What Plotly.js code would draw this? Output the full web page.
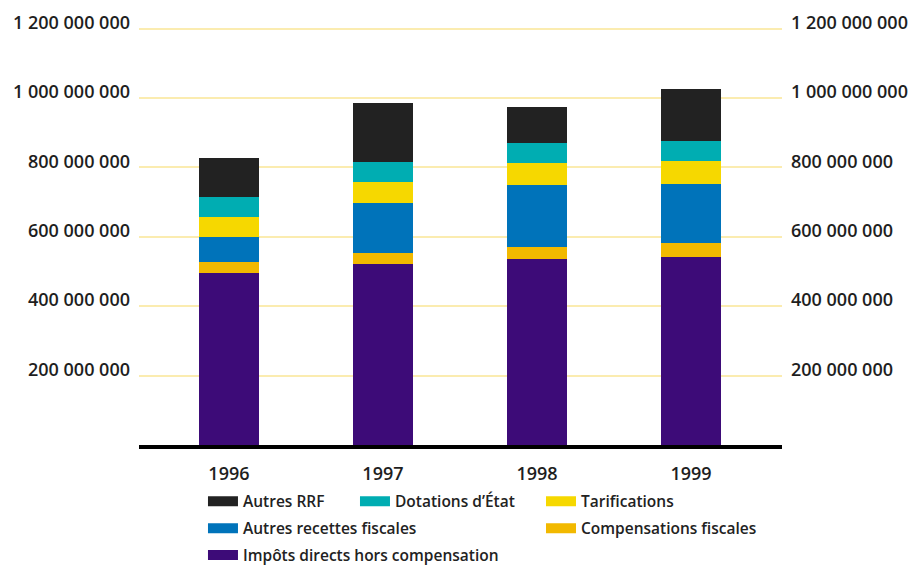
<!DOCTYPE html>
<html>
<head>
<meta charset="utf-8">
<script src="https://cdn.plot.ly/plotly-3.0.1.min.js"></script>
<style>
html,body{margin:0;padding:0;background:#fff;}
#chart{width:914px;height:567px;}
</style>
</head>
<body>
<div id="chart"></div>
<script>
// Categories
var years = ['1996', '1997', '1998', '1999'];

// Series values (stack order bottom -> top)
var impotsDirects = [496000000, 522000000, 537000000, 542000000];
var compensationsFiscales = [32000000, 32000000, 34000000, 41000000];
var autresRecettesFiscales = [72000000, 144000000, 179000000, 170000000];
var tarifications = [58000000, 60000000, 63000000, 66000000];
var dotationsEtat = [57000000, 58000000, 58000000, 57000000];
var autresRRF = [112000000, 170000000, 103000000, 150000000];

// Tick labels
var tickValues = [200000000, 400000000, 600000000, 800000000, 1000000000, 1200000000];
var tickLabels = ['200 000 000', '400 000 000', '600 000 000', '800 000 000', '1 000 000 000', '1 200 000 000'];

var seriesNames = ['Impôts directs hors compensation', 'Compensations fiscales', 'Autres recettes fiscales',
                   'Tarifications', 'Dotations d\u2019État', 'Autres RRF'];
var seriesValues = [impotsDirects, compensationsFiscales, autresRecettesFiscales, tarifications, dotationsEtat, autresRRF];
var seriesColors = ['#3d0b78', '#f2b900', '#0073ba', '#f6d800', '#00adb2', '#222222'];
var seriesLegends = ['legend6', 'legend5', 'legend4', 'legend3', 'legend2', 'legend'];

var traces = [];
for (var i = 0; i < seriesNames.length; i++) {
  traces.push({
    type: 'bar', x: years, y: seriesValues[i], name: seriesNames[i],
    marker: {color: seriesColors[i], line: {width: 0}},
    width: 0.39, showlegend: false, hoverinfo: 'skip'
  });
}
// legend entries (wide swatches)
for (var j = 0; j < seriesNames.length; j++) {
  traces.push({
    type: 'scatter', mode: 'lines', x: [null], y: [null], yaxis: 'y2',
    name: seriesNames[j], line: {color: seriesColors[j], width: 10},
    showlegend: true, legend: seriesLegends[j], hoverinfo: 'skip'
  });
}

var tickFont = {family: 'Open Sans, sans-serif', size: 18, color: '#1e1e1e', weight: 600};
var legFont = {family: 'Open Sans, sans-serif', size: 15.5, color: '#222', weight: 600};
var yRange = [0, 1239000000];

function leg(x, y) {
  return {x: x, y: y, xanchor: 'left', yanchor: 'middle', orientation: 'v',
          bgcolor: 'rgba(0,0,0,0)', borderwidth: 0, font: legFont, itemclick: false};
}

var layout = {
  width: 914, height: 567,
  margin: {l: 139, r: 132, t: 15, b: 122, autoexpand: false},
  paper_bgcolor: '#ffffff', plot_bgcolor: '#ffffff',
  barmode: 'stack',
  showlegend: true,
  xaxis: {
    type: 'category', range: [-0.584, 3.591],
    showline: true, linecolor: '#000000', linewidth: 4,
    showgrid: false, zeroline: false, ticks: '',
    tickfont: tickFont, ticklabelstandoff: 9
  },
  yaxis: {
    range: yRange, tickvals: tickValues, ticktext: tickLabels,
    showgrid: true, gridcolor: '#fbecb0', gridwidth: 2,
    zeroline: false, showline: false, ticks: '',
    tickfont: tickFont, ticklabelstandoff: 8, ticklabelshift: -6
  },
  yaxis2: {
    overlaying: 'y', side: 'right', anchor: 'x',
    range: yRange, tickvals: tickValues, ticktext: tickLabels,
    showgrid: false, zeroline: false, showline: false, ticks: '',
    tickfont: tickFont, ticklabelstandoff: 8, ticklabelshift: -6
  },
  legend: leg(0.0995, -0.1319),
  legend2: leg(0.3359, -0.1319),
  legend3: leg(0.6252, -0.1319),
  legend4: leg(0.0995, -0.1947),
  legend5: leg(0.6252, -0.1947),
  legend6: leg(0.0995, -0.2570)
};

Plotly.newPlot('chart', traces, layout, {staticPlot: true, displayModeBar: false});
</script>
</body>
</html>
